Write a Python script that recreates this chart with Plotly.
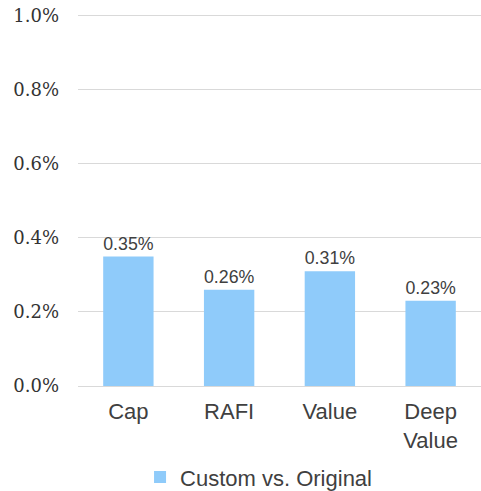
import plotly.graph_objects as go

categories = ["Cap", "RAFI", "Value", "Deep<br>Value"]
custom_vs_original = [0.0035, 0.0026, 0.0031, 0.0023]
series_name = "Custom vs. Original"
y_ticks = [0.0, 0.002, 0.004, 0.006, 0.008, 0.010]

_TEXT = "#404040"
_BAR = "#8fcbfa"
_GRID = "#d9d9d9"

fig = go.Figure(
    data=go.Bar(
        x=categories,
        y=custom_vs_original,
        name=series_name,
        marker=dict(color=_BAR, line=dict(width=0)),
        texttemplate="%{y:.2%}",
        textposition="outside",
        textfont=dict(family="Liberation Sans, Arial", size=18, color=_TEXT),
        cliponaxis=False,
        showlegend=True,
    )
)
fig.update_layout(
    width=481,
    height=491,
    margin=dict(l=78, r=0, t=14, b=105),
    plot_bgcolor="white",
    paper_bgcolor="white",
    bargap=0.5,
    xaxis=dict(
        showgrid=False,
        showline=False,
        ticks="",
        automargin=False,
        ticklabelstandoff=10,
        tickfont=dict(family="Liberation Sans, Arial", size=22, color=_TEXT),
    ),
    yaxis=dict(
        range=[0, 0.01005],
        tickvals=y_ticks,
        tickformat=".1%",
        showgrid=True,
        gridcolor=_GRID,
        gridwidth=1,
        zeroline=True,
        zerolinecolor=_GRID,
        zerolinewidth=1,
        ticks="",
        automargin=False,
        ticklabelstandoff=18,
        tickfont=dict(family="DejaVu Serif", size=18, color="#333333"),
    ),
    legend=dict(
        orientation="h",
        x=0.448,
        xanchor="center",
        yref="container",
        y=0.028,
        yanchor="middle",
        font=dict(family="Liberation Sans, Arial", size=22, color=_TEXT),
        itemwidth=30,
    ),
)

# page body has a default 8px margin; drop it so the chart sits flush
fig.write_html(
    "out.html",
    config={"displayModeBar": False},
    post_script="document.body.style.margin='0';",
)
